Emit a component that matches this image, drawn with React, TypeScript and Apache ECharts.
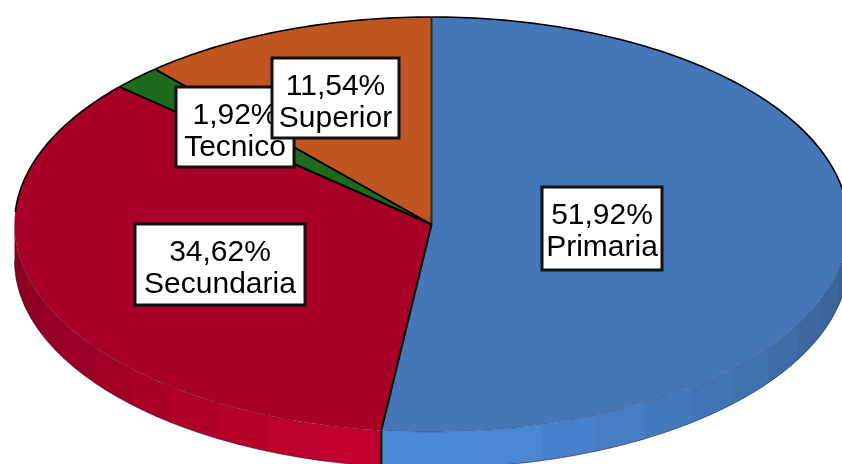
import React, { useEffect, useRef } from "react";
import * as echarts from "echarts";

const categories = ["Primaria", "Secundaria", "Tecnico", "Superior"];
const values = [51.92, 34.62, 1.92, 11.54];

// Style and layout, separate from the data
const topColors = ["#4577b8", "#a80026", "#1f6b1d", "#c05522"];
const sideBright = [[77, 140, 220], [198, 0, 46], [31, 107, 29], [192, 85, 34]];
const sideDark = [[56, 95, 146], [136, 0, 32], [20, 70, 20], [130, 55, 20]];
const labelBoxes = [
  { x: 542, y: 187, w: 120, h: 83 },
  { x: 135, y: 224, w: 170, h: 81 },
  { x: 176, y: 87, w: 118, h: 80 },
  { x: 272, y: 58, w: 127, h: 80 },
];
const CX = 431.5, CY = 224.5, RX = 417, RY = 207.5, DEPTH = 36, BAND = 7.7;
const BACK_LIMIT = 86.5;
const FONT = '30px "Liberation Sans", Arial, sans-serif';

const total = values.reduce((a, b) => a + b, 0);
const rad = (d: number) => (d * Math.PI) / 180;
const pt = (deg: number, dy = 0): [number, number] => [
  CX + RX * Math.sin(rad(deg)),
  CY + dy - RY * Math.cos(rad(deg)),
];
const arc = (a: number, b: number, dy = 0) => {
  const n = Math.max(2, Math.ceil(Math.abs(b - a) / 1));
  const out: [number, number][] = [];
  for (let i = 0; i <= n; i++) out.push(pt(a + ((b - a) * i) / n, dy));
  return out;
};
const startAngle = (i: number) =>
  (values.slice(0, i).reduce((a, b) => a + b, 0) / total) * 360;

const bandColor = (i: number, off: number) => {
  const from = i === 0 ? 0 : 8;
  const t = Math.min(1, Math.max(0, (off - from) / (82 - from)));
  const c = sideBright[i].map((v, k) => Math.round(v + (sideDark[i][k] - v) * t));
  return `rgb(${c[0]},${c[1]},${c[2]})`;
};

function sliceItem(params: any, api: any) {
  const i = params.dataIndex;
  const a0 = startAngle(i);
  const a1 = a0 + (api.value(0) / total) * 360;
  const children: any[] = [];

  // Rim: visible only on the front half, drawn as shaded bands
  const s0 = Math.max(a0, 90), s1 = Math.min(a1, 270);
  if (s1 > s0) {
    const edges = [s0];
    for (let k = -12; k <= 12; k++) {
      const e = 180 + k * BAND;
      if (e > s0 && e < s1) edges.push(e);
    }
    edges.push(s1);
    for (let k = 0; k < edges.length - 1; k++) {
      const off = Math.abs((edges[k] + edges[k + 1]) / 2 - 180);
      const col = bandColor(i, off);
      // Each band runs a little under the next, so no white seam shows
      const end = Math.min(edges[k + 1] + 0.4, s1);
      children.push({
        type: "polygon",
        shape: { points: [...arc(edges[k], end), ...arc(end, edges[k], DEPTH)] },
        style: { fill: col },
      });
    }
    children.push({
      type: "polyline",
      shape: { points: arc(s0, s1, DEPTH) },
      style: { fill: "none", stroke: "rgba(20,25,45,0.55)", lineWidth: 1 },
    });
  }

  // Top face
  children.push({
    type: "polygon",
    shape: { points: [[CX, CY], ...arc(a0, a1)] },
    style: { fill: topColors[i] },
  });
  return { type: "group", children };
}

function edgeItem(params: any, api: any) {
  const i = params.dataIndex;
  const a0 = startAngle(i);
  const a1 = a0 + (api.value(0) / total) * 360;
  const children: any[] = [];
  // Radius on the slice's starting side
  children.push({
    type: "line",
    shape: { x1: CX, y1: CY, x2: pt(a0)[0], y2: pt(a0)[1] },
    style: { stroke: i === 0 ? "#2e2a22" : "#000", lineWidth: 2 },
  });
  // Drop line of the rim where it is on the front
  if (a0 > 90 && a0 < 270) {
    children.push({
      type: "line",
      shape: { x1: pt(a0)[0], y1: pt(a0)[1], x2: pt(a0, DEPTH)[0], y2: pt(a0, DEPTH)[1] },
      style: { stroke: "#000", lineWidth: 2 },
    });
  }
  // Back edge is a firm line, front edge a faint one
  const backParts: [number, number][] = [];
  if (a0 < BACK_LIMIT) backParts.push([a0, Math.min(a1, BACK_LIMIT)]);
  if (a1 > 360 - BACK_LIMIT) backParts.push([Math.max(a0, 360 - BACK_LIMIT), a1]);
  backParts.forEach(([p, q]) =>
    children.push({
      type: "polyline",
      shape: { points: arc(p, q) },
      style: { fill: "none", stroke: "#000", lineWidth: 1.6 },
    })
  );
  const f0 = Math.max(a0, 90), f1 = Math.min(a1, 270);
  if (f1 > f0) {
    children.push({
      type: "polyline",
      shape: { points: arc(f0, f1) },
      style: { fill: "none", stroke: "rgba(20,25,45,0.22)", lineWidth: 1 },
    });
  }
  return { type: "group", children };
}

function labelItem(params: any, api: any) {
  const i = params.dataIndex;
  const b = labelBoxes[i];
  const pct = api.value(0).toFixed(2).replace(".", ",") + "%";
  const mid = b.x + b.w / 2;
  const common = { textAlign: "center", textVerticalAlign: "middle", fill: "#000", font: FONT };
  return {
    type: "group",
    children: [
      {
        type: "rect",
        shape: { x: b.x, y: b.y, width: b.w, height: b.h },
        style: { fill: "#fff", stroke: "#111", lineWidth: 3 },
      },
      { type: "text", style: { ...common, text: pct, x: mid, y: b.y + 26 } },
      { type: "text", style: { ...common, text: categories[i], x: mid, y: b.y + 58 } },
    ],
  };
}

export default function App() {
  const ref = useRef<HTMLDivElement>(null);
  useEffect(() => {
    const chart = echarts.init(ref.current!, undefined, { renderer: "svg" });
    const data = values.map((v) => [v]);
    const base = { type: "custom", coordinateSystem: "none", data, silent: true, clip: false };
    chart.setOption({
      animation: false,
      backgroundColor: "#fff",
      series: [
        { ...base, name: "slices", renderItem: sliceItem, z: 1 },
        { ...base, name: "edges", renderItem: edgeItem, z: 2 },
        { ...base, name: "labels", renderItem: labelItem, z: 3 },
      ],
    });
    return () => chart.dispose();
  }, []);
  return (
    <div
      ref={ref}
      style={{ position: "absolute", left: 0, top: 0, width: 842, height: 464, filter: "blur(0.5px)" }}
    />
  );
}
